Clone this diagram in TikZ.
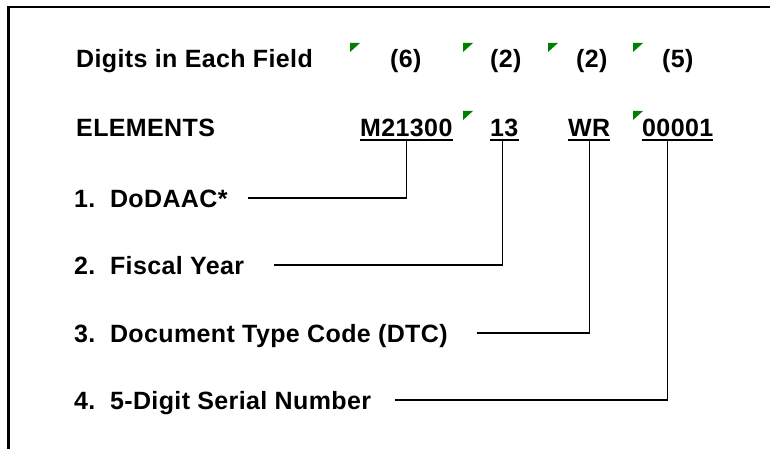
\documentclass[tikz,border=0pt]{standalone}
\usepackage{fontspec}
\setmainfont{Liberation Sans}[LetterSpace=1.5]
\usetikzlibrary{positioning}
\definecolor{markgreen}{RGB}{0,128,0}

\begin{document}
\begin{tikzpicture}[x=1pt,y=-1pt,
    every node/.style={font=\bfseries\fontsize{25}{30}\selectfont},
    lbl/.style={anchor=base west,inner sep=0pt,text height=18pt,text depth=0pt},
    val/.style={anchor=base west,inner xsep=0pt,inner ysep=3pt,text height=18pt,text depth=0pt},
    uline/.style={line width=1.8pt},
    conn/.style={line width=1.4pt},
    frame/.style={line width=2.5pt}]
    \useasboundingbox (0,0) rectangle (770,449);

    % frame (top and left only)
    \draw[frame] (8.5,449) -- (8.5,7) -- (770,7);

    % header row
    \node[lbl] (digits) at (76,68) {Digits in Each Field};
    \node[lbl] (w6) at (390,68) {(6)};
    \node[lbl] (w2a) at (490,68) {(2)};
    \node[lbl] (w2b) at (576,68) {(2)};
    \node[lbl] (w5) at (662,68) {(5)};

    % elements row
    \node[lbl] (elem) at (76,137) {ELEMENTS};
    \node[val] (dodaac) at (360,137) {M21300};
    \node[val] (fy) at (490,137) {13};
    \node[val] (dtc) at (568,137) {WR};
    \node[val] (serial) at (642,137) {00001};

    \draw[uline] (dodaac.south west) -- (dodaac.south east);
    \draw[uline] (fy.south west) -- (fy.south east);
    \draw[uline] (dtc.south west) -- (dtc.south east);
    \draw[uline] (serial.south west) -- (serial.south east);

    % green corner marks
    \foreach \x/\y in {350/43,463/43,548/43,633/43,463/111,633/111}
        \fill[markgreen] (\x,\y) -- ++(10,0) -- ++(-10,9) -- cycle;

    % numbered labels
    \node[lbl] (l1) at (74,207) {1.\ \ DoDAAC*};
    \node[lbl] (l2) at (74,274) {2.\ \ Fiscal Year};
    \node[lbl] (l3) at (74,342) {3.\ \ Document Type Code (DTC)};
    \node[lbl] (l4) at (74,409) {4.\ \ 5-Digit Serial Number};

    \coordinate (c1) at (248,0);
    \coordinate (c2) at (274,0);
    \coordinate (c3) at (477,0);
    \coordinate (c4) at (395,0);

    \draw[conn] (l1.east -| c1) -| (dodaac.south);
    \draw[conn] (l2.east -| c2) -| ([xshift=-2pt]fy.south);
    \draw[conn] (l3.east -| c3) -| (dtc.south);
    \draw[conn] (l4.east -| c4) -| ([xshift=-10pt]serial.south);
\end{tikzpicture}
\end{document}
